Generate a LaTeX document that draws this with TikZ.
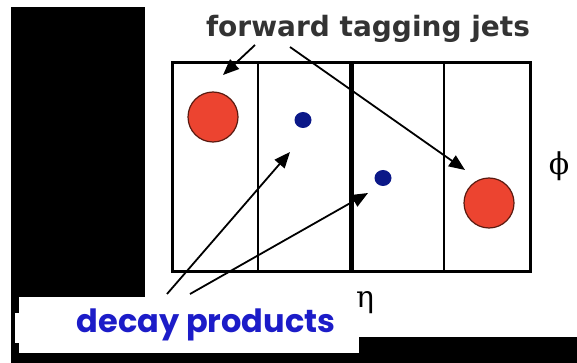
\documentclass[tikz,border=0pt]{standalone}
\usepackage{fontspec}
\usepackage{tikz}
\usetikzlibrary{arrows.meta, shapes.geometric}
\newfontfamily\labelfont{DejaVu Sans}
\newfontfamily\decayfont{Poppins}
\newfontfamily\greekfont{DejaVu Serif}
\definecolor{jetred}{HTML}{EC4430}
\definecolor{jetrim}{HTML}{5A1A10}
\definecolor{dotblue}{HTML}{0B1888}
\definecolor{decayblue}{HTML}{1C1CC8}
\definecolor{labelgray}{HTML}{333333}

\begin{document}
\begin{tikzpicture}[x=1pt, y=-1pt,
  jet/.style={circle, draw=jetrim, fill=jetred, line width=1.2pt, minimum size=50pt, inner sep=0pt},
  product/.style={ellipse, fill=dotblue, minimum width=17pt, minimum height=16pt, inner sep=0pt},
  arrow/.style={-{Triangle[length=16pt, width=13pt]}, line width=1.8pt},
  divider/.style={line width=2.6pt}
]
  \useasboundingbox (0,0) rectangle (577,363);

  % masking blocks
  \fill[black] (11,7) rectangle (145,297);
  \fill[black] (11,297) rectangle (19,363);
  \fill[black] (11,353) rectangle (359,363);
  \fill[black] (359,337) rectangle (577,363);
  \fill[white] (15,313) rectangle (19,343);

  % eta-phi plane
  \draw[line width=3pt] (172,63) rectangle (530,271);
  \draw[divider] (258,63) -- (258,271);
  \draw[line width=5pt] (351,63) -- (351,271);
  \draw[divider] (444,63) -- (444,271);

  \node[jet] (jetL) at (213,117) {};
  \node[jet] (jetR) at (489,203) {};
  \node[product] (prodA) at (303,120) {};
  \node[product] (prodB) at (383,178) {};

  \node[anchor=base, text=labelgray, font=\labelfont\bfseries\fontsize{28}{33}\selectfont] (fwd) at (368,37) {forward tagging jets};
  \node[anchor=base, text=decayblue, font=\decayfont\bfseries\fontsize{32}{38}\selectfont] (decay) at (206,332) {decay products};
  \node[font=\greekfont\fontsize{30}{34}\selectfont] (phi) at (559,166) {ϕ};
  \node[font=\greekfont\fontsize{30}{34}\selectfont] (eta) at (365,303) {η};

  \coordinate (fwdL) at (255,45);
  \coordinate (fwdR) at (290,47);
  \coordinate (tipL) at (223,75);
  \coordinate (tipR) at (465,170);
  \coordinate (decA) at (167,294);
  \coordinate (decB) at (190,294);
  \coordinate (tipA) at (290,152);
  \coordinate (tipB) at (368,193);

  \draw[arrow] (fwdL) -- (tipL);
  \draw[arrow] (fwdR) -- (tipR);
  \draw[arrow] (decA) -- (tipA);
  \draw[arrow] (decB) -- (tipB);
\end{tikzpicture}
\end{document}
